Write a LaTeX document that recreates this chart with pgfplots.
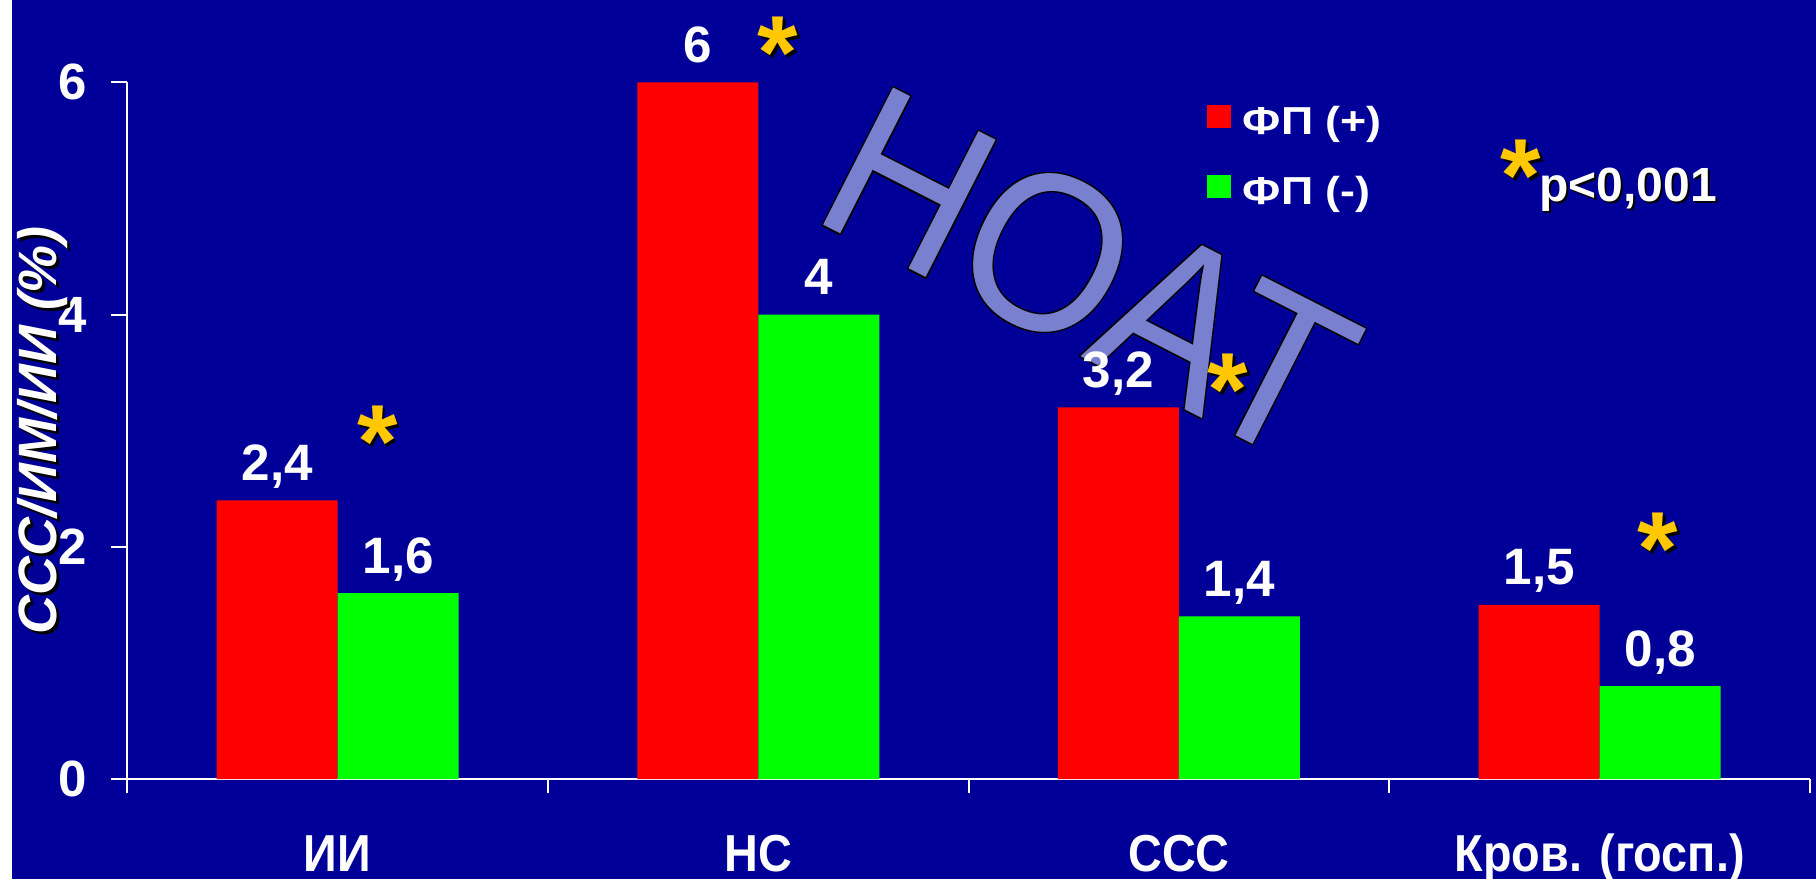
\documentclass[border=0pt]{standalone}
\usepackage{fontspec}
\setmainfont{Liberation Sans}
\newfontfamily\catfont{Liberation Sans}[FakeStretch=0.9]
\newfontfamily\legfont{Liberation Sans}[FakeStretch=1.15]
\newfontfamily\markfont{Liberation Sans}[FakeStretch=0.92]
\usepackage{pgfplots}
\pgfplotsset{compat=1.18}
\usepackage[copies]{contour}
\contourlength{0.6pt}
\contournumber{32}

\definecolor{slideblue}{RGB}{0,0,153}
\definecolor{fpplus}{RGB}{255,0,0}
\definecolor{fpminus}{RGB}{0,255,0}
\definecolor{starcol}{RGB}{255,200,0}
\definecolor{markfill}{RGB}{122,128,208}

% event rates (%) by outcome: with / without atrial fibrillation
\pgfplotstableread{
idx plus minus
0   2.4  1.6
1   6    4
2   3.2  1.4
3   1.5  0.8
}\rates

% text with a dark drop shadow
\newcommand\shadowed[3]{\makebox[0pt][l]{\hspace*{#1}\raisebox{#2}{\color{black}#3}}#3}

% significance asterisk with shadow, centred on an axis point
\newcommand\sigstar[2]{%
  \node[font=\fontsize{52}{56}\selectfont\bfseries, text=black, anchor=base,
        inner sep=0pt, xshift=1.3pt, yshift=-31.1pt] at (axis cs:#1,#2) {*};
  \node[font=\fontsize{52}{56}\selectfont\bfseries, text=starcol, anchor=base,
        inner sep=0pt, yshift=-29.6pt] at (axis cs:#1,#2) {*};}

\begin{document}
\begin{tikzpicture}
% slide background
\fill[slideblue] (-63.65pt,-50pt) rectangle (844.35pt,389.5pt);
\fill[white] (-63.65pt,-50pt) rectangle (-57.65pt,389.5pt);

% watermark
\node[rotate=-27, inner sep=0pt, text=markfill,
      font=\markfont\fontsize{112}{120}\selectfont] at (481pt,252pt) {\contour{black}{НОАТ}};

\begin{axis}[
  at={(0,0)}, anchor=south west,
  width=841.35pt, height=348.35pt, scale only axis,
  xmin=-0.5, xmax=3.5, ymin=0, ymax=6,
  clip=false,
  axis lines=left,
  axis line style={-, white, line width=1pt},
  ybar=0pt, bar width=60.5pt,
  xtick={0,1,2,3},
  xticklabels={ИИ, НС, ССС, Кров. (госп.)},
  minor xtick={-0.5,0.5,1.5,2.5,3.5},
  major x tick style={draw=none},
  minor tick length=7pt,
  major tick length=8pt,
  ytick={0,2,4,6},
  tick align=outside,
  tick style={white, line width=1pt},
  /pgf/number format/use comma,
  /pgf/number format/assume math mode=true,
  xticklabel style={font=\catfont\fontsize{26}{30}\selectfont\bfseries, text=white,
                    anchor=base, yshift=-38pt},
  yticklabel style={font=\fontsize{25.5}{30}\selectfont\bfseries, text=white,
                    xshift=-8.5pt},
  every axis y label/.style={at={(axis description cs:0,0.5)}, xshift=-41.45pt,
                    rotate=90, anchor=center, text=white,
                    font=\fontsize{27}{32}\selectfont\bfseries\itshape},
  ylabel={\shadowed{-1.5pt}{-1.5pt}{ССС/ИМ/ИИ (\%)}},
  nodes near coords,
  every node near coord/.append style={font=\fontsize{25.6}{30}\selectfont\bfseries,
                    text=white, anchor=base, inner sep=0pt, yshift=10pt},
  sq legend/.style={legend image code/.code={\fill[##1] (0pt,-1.5pt) rectangle (11.75pt,10.15pt);}},
  legend cell align=left,
  legend style={at={(0.6417,0.9674)}, anchor=north west, draw=none, fill=none,
                inner sep=0pt, outer sep=0pt, text=white, row sep=16.35pt,
                font=\legfont\fontsize{19.5}{22}\selectfont\bfseries,
                nodes={inner sep=0pt, text height=13pt, text depth=4pt},
                /tikz/every odd column/.append style={column sep=6.15pt}},
]
\addplot[fill=fpplus, draw=none, sq legend] table[x=idx, y=plus] {\rates};
\addplot[fill=fpminus, draw=none, sq legend] table[x=idx, y=minus] {\rates};
\legend{ФП (+), ФП (-)}

\sigstar{0.095}{3.11}
\sigstar{1.047}{6.46}
\sigstar{2.116}{3.557}
\sigstar{3.138}{2.183}
\sigstar{2.813}{5.394}
\node[anchor=base west, inner sep=0pt, text=black, xshift=1pt, yshift=-1pt,
      font=\fontsize{24}{28}\selectfont\bfseries] at (axis cs:2.856,4.972) {p<0,001};
\node[anchor=base west, inner sep=0pt, text=white,
      font=\fontsize{24}{28}\selectfont\bfseries] at (axis cs:2.856,4.972) {p<0,001};
\end{axis}
\pgfresetboundingbox
\useasboundingbox (-63.65pt,-50pt) rectangle (844.35pt,389.5pt);
\end{tikzpicture}
\end{document}
